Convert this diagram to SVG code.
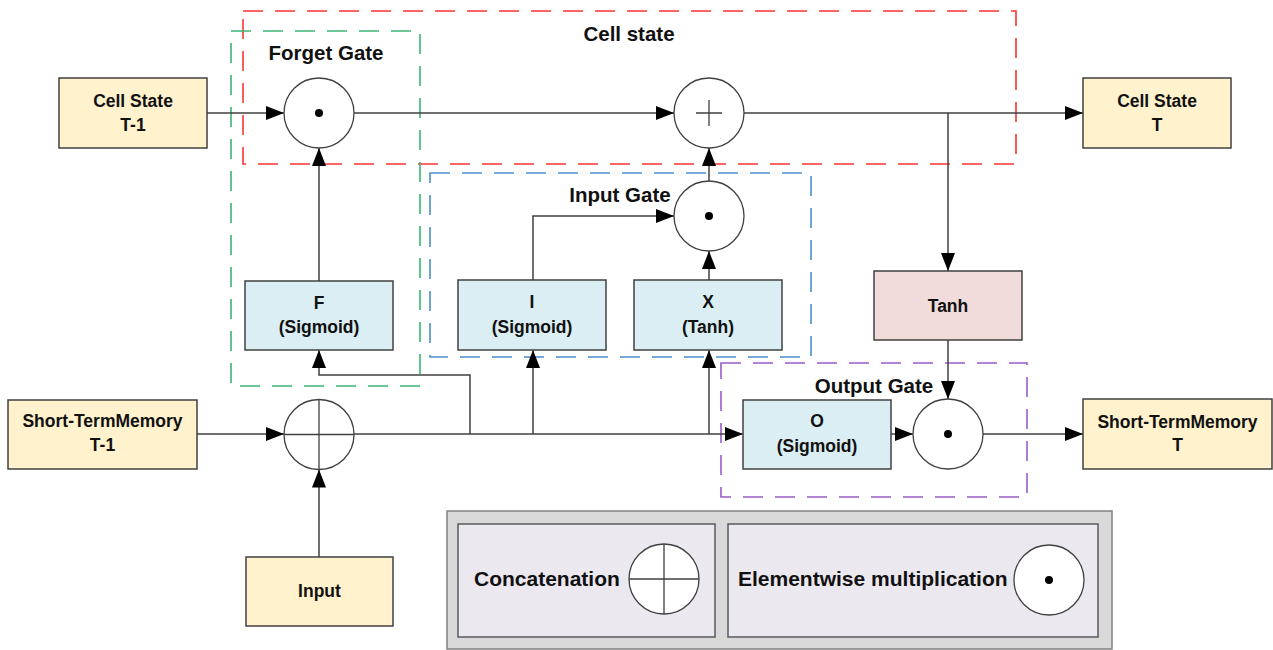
<svg xmlns="http://www.w3.org/2000/svg" width="1273" height="650" viewBox="0 0 1273 650">
  <style>
    text { font-family: "Liberation Sans", Arial, sans-serif; font-weight: bold; fill: #111; text-anchor: middle; }
    .lbl { font-size: 17.5px; }
    .title { font-size: 20.5px; }
    .legend { font-size: 21px; text-anchor: start; }
    .box { stroke: #404040; stroke-width: 1.5; }
    .io { fill: #fff2cc; }
    .gate { fill: #daeef3; }
    .tanh { fill: #f2dcdb; }
    .op { fill: #fff; stroke: #404040; stroke-width: 1.3; }
    .sym { stroke: #404040; stroke-width: 1.3; fill: none; }
    .dot { fill: #000; }
    .frame { fill: none; stroke-width: 1.6; stroke-dasharray: 20 12; }
    .wire { fill: none; stroke: #404040; stroke-width: 1.5; }
    .arr { marker-end: url(#head); }
  </style>
  <defs>
    <marker id="head" markerUnits="userSpaceOnUse" markerWidth="18" markerHeight="14" viewBox="0 0 18 14" refX="18" refY="7" orient="auto">
      <path d="M0,0 L18,7 L0,14 Z" fill="#000"/>
    </marker>
  </defs>

  <!-- Dashed gate frames -->
  <g id="frames">
    <rect id="frame-cell" class="frame" x="243" y="11" width="773" height="153" stroke="#ff3333"/>
    <rect id="frame-forget" class="frame" x="231" y="31" width="189" height="355" stroke="#3cb371"/>
    <rect id="frame-input" class="frame" x="430" y="173" width="381" height="184" stroke="#4a90d0"/>
    <rect id="frame-output" class="frame" x="721" y="363" width="306" height="134" stroke="#9a5cc6"/>
    <text class="title" x="629" y="41">Cell state</text>
    <text class="title" x="326" y="60">Forget Gate</text>
    <text class="title" x="620" y="202">Input Gate</text>
    <text class="title" x="874" y="393">Output Gate</text>
  </g>

  <!-- Connectors -->
  <g id="connectors">
    <line class="wire arr" x1="207" y1="113" x2="284" y2="113"/>
    <line class="wire arr" x1="354" y1="113" x2="674" y2="113"/>
    <line class="wire arr" x1="744" y1="113" x2="1083" y2="113"/>
    <line class="wire arr" x1="948" y1="113" x2="948" y2="271"/>
    <line class="wire arr" x1="948" y1="340" x2="948" y2="399"/>
    <line class="wire arr" x1="319" y1="281" x2="319" y2="148"/>
    <line class="wire arr" x1="197" y1="434" x2="284" y2="434"/>
    <line class="wire arr" x1="319" y1="557" x2="319" y2="469.5"/>
    <line class="wire arr" x1="354" y1="434" x2="743" y2="434"/>
    <polyline class="wire arr" points="470,434 470,375 319,375 319,350"/>
    <line class="wire arr" x1="533" y1="434" x2="533" y2="350"/>
    <line class="wire arr" x1="709" y1="434" x2="709" y2="350"/>
    <polyline class="wire arr" points="533,280 533,216 674,216"/>
    <line class="wire arr" x1="709" y1="280" x2="709" y2="251"/>
    <line class="wire arr" x1="709" y1="181" x2="709" y2="148"/>
    <line class="wire arr" x1="891" y1="434" x2="913" y2="434"/>
    <line class="wire arr" x1="983" y1="434" x2="1083" y2="434"/>
  </g>

  <!-- Inputs and outputs -->
  <g id="cell-state-prev">
    <rect class="box io" x="59" y="78" width="148" height="70"/>
    <text class="lbl" x="133" y="107">Cell State</text>
    <text class="lbl" x="133" y="131">T-1</text>
  </g>
  <g id="cell-state-next">
    <rect class="box io" x="1083" y="78" width="148" height="70"/>
    <text class="lbl" x="1157" y="107">Cell State</text>
    <text class="lbl" x="1157" y="131">T</text>
  </g>
  <g id="short-term-prev">
    <rect class="box io" x="8" y="400" width="189" height="69"/>
    <text class="lbl" x="102.5" y="427">Short-TermMemory</text>
    <text class="lbl" x="102.5" y="451">T-1</text>
  </g>
  <g id="short-term-next">
    <rect class="box io" x="1083" y="399" width="189" height="70"/>
    <text class="lbl" x="1177.5" y="428">Short-TermMemory</text>
    <text class="lbl" x="1177.5" y="451">T</text>
  </g>
  <g id="input">
    <rect class="box io" x="246" y="557" width="147" height="69"/>
    <text class="lbl" x="319.5" y="597">Input</text>
  </g>

  <!-- Gate activations -->
  <g id="forget-sigmoid">
    <rect class="box gate" x="245" y="281" width="148" height="69"/>
    <text class="lbl" x="319" y="309">F</text>
    <text class="lbl" x="319" y="333">(Sigmoid)</text>
  </g>
  <g id="input-sigmoid">
    <rect class="box gate" x="458" y="280" width="148" height="70"/>
    <text class="lbl" x="532" y="308">I</text>
    <text class="lbl" x="532" y="333">(Sigmoid)</text>
  </g>
  <g id="candidate-tanh">
    <rect class="box gate" x="634" y="280" width="148" height="70"/>
    <text class="lbl" x="708" y="308">X</text>
    <text class="lbl" x="708" y="333">(Tanh)</text>
  </g>
  <g id="output-sigmoid">
    <rect class="box gate" x="743" y="400" width="148" height="69"/>
    <text class="lbl" x="817" y="427">O</text>
    <text class="lbl" x="817" y="452">(Sigmoid)</text>
  </g>
  <g id="cell-tanh">
    <rect class="box tanh" x="874" y="271" width="148" height="69"/>
    <text class="lbl" x="948" y="312">Tanh</text>
  </g>

  <!-- Pointwise operations -->
  <g id="forget-mult">
    <circle class="op" cx="319" cy="113" r="35"/>
    <circle class="dot" cx="319" cy="113" r="4"/>
  </g>
  <g id="cell-add">
    <circle class="op" cx="709" cy="113" r="35"/>
    <path class="sym" d="M696,113 H722 M709,100 V126"/>
  </g>
  <g id="input-mult">
    <circle class="op" cx="709" cy="216" r="35"/>
    <circle class="dot" cx="709" cy="216" r="4"/>
  </g>
  <g id="concat">
    <circle class="op" cx="319" cy="434.5" r="35"/>
    <path class="sym" d="M284,434.5 H354 M319,399.5 V469.5"/>
  </g>
  <g id="output-mult">
    <circle class="op" cx="948" cy="434" r="35"/>
    <circle class="dot" cx="948" cy="434" r="4"/>
  </g>

  <!-- Legend -->
  <g id="legend">
    <rect x="447" y="511" width="665" height="138" fill="#d9d9d9" stroke="#808080" stroke-width="1.5"/>
    <g id="legend-concat">
      <rect x="458" y="524" width="257" height="113" fill="#ebe8f0" stroke="#595959" stroke-width="1.5"/>
      <text class="legend" x="474" y="586">Concatenation</text>
      <circle class="op" cx="664" cy="579" r="35"/>
      <path class="sym" d="M629,579 H699 M664,544 V614"/>
    </g>
    <g id="legend-mult">
      <rect x="728" y="524" width="370" height="113" fill="#ebe8f0" stroke="#595959" stroke-width="1.5"/>
      <text class="legend" x="738" y="586">Elementwise multiplication</text>
      <circle class="op" cx="1049" cy="580" r="35"/>
      <circle class="dot" cx="1049" cy="580" r="4"/>
    </g>
  </g>
</svg>
